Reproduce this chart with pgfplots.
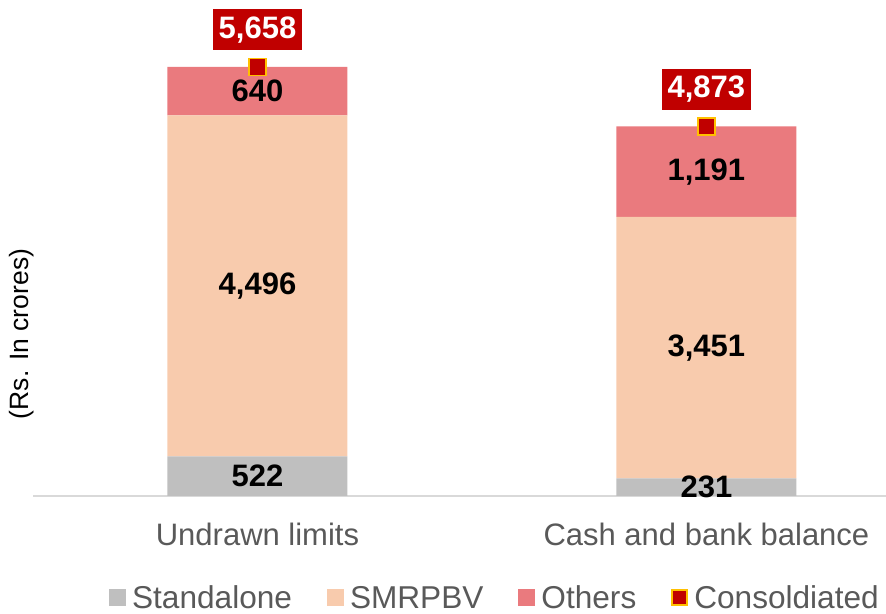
\documentclass[border=0pt]{standalone}
\usepackage{pgfplots}
\pgfplotsset{compat=1.18}
\usepackage{fontspec}
\setmainfont{Liberation Sans}
\definecolor{cGray}{HTML}{BFBFBF}
\definecolor{cPeach}{HTML}{F8CBAD}
\definecolor{cOthers}{HTML}{EA7A7E}
\definecolor{cRed}{HTML}{C00000}
\definecolor{cGold}{HTML}{FFC000}
\definecolor{cText}{HTML}{595959}
\definecolor{cLine}{HTML}{D9D9D9}
\newcommand{\bigf}{\fontsize{31bp}{36bp}\selectfont}
\newcommand{\legf}{\fontsize{31.6bp}{36bp}\selectfont}
\begin{document}
\begin{tikzpicture}
\useasboundingbox (0bp,0bp) rectangle (886bp,614bp);
\begin{axis}[
  at={(33bp,118bp)}, anchor=south west,
  scale only axis, width=853bp, height=496bp,
  xmin=-0.5, xmax=1.4, ymin=0, ymax=6540,
  ybar stacked, bar width=180bp,
  axis y line=none, axis x line*=bottom,
  x axis line style={draw=cLine, line width=1.2bp, -},
  xtick={0,1}, xticklabels={Undrawn limits, Cash and bank balance},
  major tick length=0pt,
  xticklabel style={font=\bigf, text=cText, anchor=base, yshift=-49bp},
  clip=false,
  legend columns=4,
  legend cell align=left,
  legend image code/.code={\fill[#1] (0bp,-8.5bp) rectangle (17bp,8.5bp);},
  legend style={at={(axis description cs:0.089,-0.2056)}, anchor=west,
    draw=none, fill=none, font=\legf, text=cText, inner sep=0pt,
    nodes={inner xsep=6bp},
    /tikz/every even column/.append style={column sep=29bp}},
]
\addplot[fill=cGray, draw=none] coordinates {(0,522) (1,231)};
\addlegendentry{Standalone}
\addplot[fill=cPeach, draw=none] coordinates {(0,4496) (1,3451)};
\addlegendentry{SMRPBV}
\addplot[fill=cOthers, draw=none] coordinates {(0,640) (1,1191)};
\addlegendentry{Others}
\addlegendimage{legend image code/.code={\draw[fill=cRed, draw=cGold, line width=2bp] (1bp,-7.5bp) rectangle (16bp,7.5bp);}}
\addlegendentry{Consoldiated}
\node[rotate=90, font=\fontsize{26.5bp}{30bp}\selectfont, text=black] at (axis description cs:-0.0129,0.3266) {(Rs. In crores)};
\end{axis}
\begin{axis}[
  at={(33bp,118bp)}, anchor=south west,
  scale only axis, width=853bp, height=496bp,
  xmin=-0.5, xmax=1.4, ymin=0, ymax=6540,
  hide axis, clip=false,
]
\addplot[draw=none, mark=none, nodes near coords, point meta=explicit symbolic,
  every node near coord/.style={anchor=center, font=\bfseries\bigf, text=black}]
  table[meta=lab] {
x y lab
0 261 522
0 2770 4,496
0 5338 640
1 115.5 231
1 1956.5 3,451
1 4277.5 1,191
};
\addplot[only marks, mark=square*, mark size=8.5bp,
  mark options={fill=cRed, draw=cGold, line width=1.5bp},
  nodes near coords, point meta=explicit symbolic,
  every node near coord/.style={anchor=center, yshift=37bp, fill=cRed, text=white,
    font=\bfseries\bigf, inner xsep=6bp, minimum height=41bp}]
  table[meta=lab] {
x y lab
0 5658 5,658
1 4873 4,873
};
\end{axis}
\end{tikzpicture}
\end{document}
